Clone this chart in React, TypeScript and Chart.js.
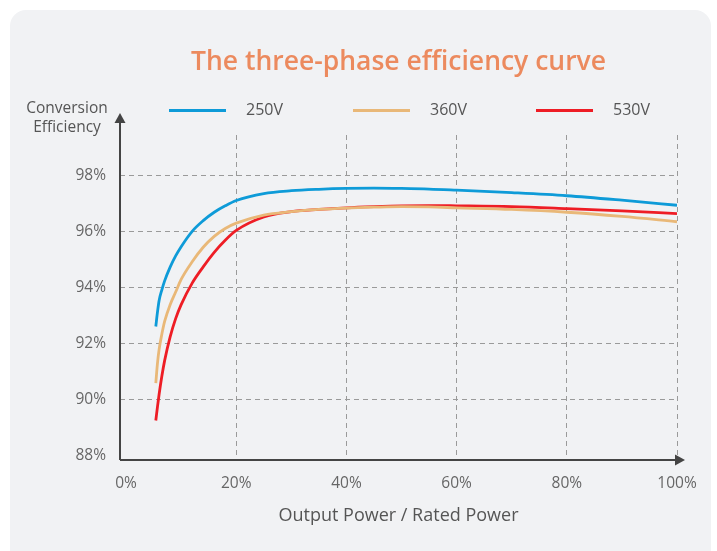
import React, { useEffect, useRef } from "react";
import { Chart, registerables } from "chart.js";

Chart.register(...registerables);

const loadPct = [5.4, 5.7, 6, 6.5, 7, 8, 9, 10, 12, 14, 16, 18, 20, 25, 30, 35, 40, 45, 50, 55, 60, 70, 80, 90, 100];
const eff250 = [92.62, 93.13, 93.55, 93.93, 94.25, 94.74, 95.14, 95.47, 96.02, 96.4, 96.7, 96.93, 97.12, 97.37, 97.47, 97.52, 97.55, 97.56, 97.55, 97.53, 97.49, 97.4, 97.29, 97.13, 96.95];
const eff360 = [90.6, 91.3, 91.8, 92.35, 92.8, 93.4, 93.85, 94.3, 94.93, 95.45, 95.84, 96.12, 96.31, 96.6, 96.72, 96.8, 96.85, 96.88, 96.9, 96.89, 96.86, 96.8, 96.7, 96.55, 96.36];
const eff530 = [89.26, 89.75, 90.2, 90.85, 91.4, 92.25, 92.9, 93.4, 94.17, 94.75, 95.27, 95.7, 96.05, 96.53, 96.72, 96.8, 96.86, 96.9, 96.93, 96.94, 96.93, 96.9, 96.83, 96.75, 96.65];
const seriesNames = ["250V", "360V", "530V"];
const seriesColors = ["#0e9bd8", "#e9b878", "#ee1d25"];
const xTicks = [0, 20, 40, 60, 80, 100];
const yTicks = [88, 90, 92, 94, 96, 98];
const titleText = "The three-phase efficiency curve";
const xTitle = "Output Power / Rated Power";
const yTitle = ["Conversion", "Efficiency"];

const FONT = "'Open Sans', sans-serif";

const decorPlugin = {
  id: "decor",
  afterDraw(chart: any) {
    const ctx = chart.ctx;
    const area = chart.chartArea;
    ctx.save();
    // axes
    ctx.strokeStyle = "#444";
    ctx.fillStyle = "#444";
    ctx.lineWidth = 2;
    ctx.beginPath();
    ctx.moveTo(area.left, area.bottom);
    ctx.lineTo(area.right + 2, area.bottom);
    ctx.moveTo(area.left, area.bottom);
    ctx.lineTo(area.left, area.top - 12);
    ctx.stroke();
    // x arrow
    ctx.beginPath();
    ctx.moveTo(area.right + 8, area.bottom);
    ctx.lineTo(area.right - 2, area.bottom - 5.5);
    ctx.lineTo(area.right - 2, area.bottom + 5.5);
    ctx.closePath();
    ctx.fill();
    // y arrow
    ctx.beginPath();
    ctx.moveTo(area.left, area.top - 22);
    ctx.lineTo(area.left - 5.5, area.top - 12);
    ctx.lineTo(area.left + 5.5, area.top - 12);
    ctx.closePath();
    ctx.fill();

    // title
    ctx.fillStyle = "#ec8a5e";
    ctx.font = `600 26.5px ${FONT}`;
    ctx.textAlign = "center";
    ctx.textBaseline = "middle";
    ctx.fillText(titleText, (area.left + area.right) / 2, 62);

    // y title
    ctx.fillStyle = "#555";
    ctx.font = `400 15.5px ${FONT}`;
    ctx.fillText(yTitle[0], 67, 109);
    ctx.fillText(yTitle[1], 67, 128);

    // x title
    ctx.font = `400 18px ${FONT}`;
    ctx.fillText(xTitle, (area.left + area.right) / 2, 516);

    // legend
    const legendX = [169, 353, 536];
    ctx.font = `400 16px ${FONT}`;
    ctx.textAlign = "left";
    for (let i = 0; i < 3; i++) {
      ctx.strokeStyle = seriesColors[i];
      ctx.lineWidth = 3;
      ctx.beginPath();
      ctx.moveTo(legendX[i], 110.5);
      ctx.lineTo(legendX[i] + 57, 110.5);
      ctx.stroke();
      ctx.fillStyle = "#555";
      ctx.fillText(seriesNames[i], legendX[i] + 77, 110.5);
    }
    ctx.restore();
  },
};

export default function App() {
  const ref = useRef<HTMLCanvasElement | null>(null);
  useEffect(() => {
    document.body.style.margin = "0";
    if (!ref.current) return;
    const mk = (vals: number[]) => loadPct.map((x, i) => ({ x, y: vals[i] }));
    const gridColor = (skip: number) => (c: any) =>
      c.tick && c.tick.value === skip ? "rgba(0,0,0,0)" : "#9a9a9a";
    const chart = new Chart(ref.current, {
      type: "line",
      data: {
        datasets: [
          { label: seriesNames[0], data: mk(eff250), borderColor: seriesColors[0] },
          { label: seriesNames[1], data: mk(eff360), borderColor: seriesColors[1] },
          { label: seriesNames[2], data: mk(eff530), borderColor: seriesColors[2] },
        ].map((d) => ({ ...d, borderWidth: 2.8, pointRadius: 0, cubicInterpolationMode: "monotone" as const, fill: false })),
      },
      options: {
        animation: false,
        responsive: false,
        maintainAspectRatio: false,
        layout: { padding: { left: 0, top: 135, right: 40, bottom: 51 } },
        plugins: { legend: { display: false }, title: { display: false }, tooltip: { enabled: false } },
        scales: {
          x: {
            type: "linear",
            min: -1.1,
            max: 100,
            afterBuildTicks: (s: any) => { s.ticks = xTicks.map((v) => ({ value: v })); },
            afterFit: (s: any) => { s.height = 40; },
            border: { display: false, dash: [5, 4] },
            grid: { drawTicks: false, color: gridColor(0), lineWidth: 1 },
            ticks: { padding: 14, color: "#666", font: { family: FONT, size: 15.5 }, callback: (v: any) => v + "%" },
          },
          y: {
            type: "linear",
            min: 87.85,
            max: 99.46,
            afterBuildTicks: (s: any) => { s.ticks = yTicks.map((v) => ({ value: v })); },
            afterFit: (s: any) => { s.width = 120; },
            border: { display: false, dash: [5, 4] },
            grid: { drawTicks: false, color: gridColor(88), lineWidth: 1 },
            ticks: { padding: 14, color: "#666", font: { family: FONT, size: 15.5 }, callback: (v: any) => v + "%" },
          },
        },
      } as any,
      plugins: [decorPlugin],
    });
    return () => chart.destroy();
  }, []);
  return (
    <div style={{ position: "relative", width: 717, height: 551, background: "#ffffff", overflow: "hidden" }}>
      <div
        style={{
          position: "absolute",
          left: 10,
          top: 10,
          width: 701,
          height: 570,
          background: "#f1f2f4",
          borderRadius: 16,
        }}
      />
      <canvas ref={ref} width={717} height={551} style={{ position: "absolute", left: 0, top: 0 }} />
    </div>
  );
}
